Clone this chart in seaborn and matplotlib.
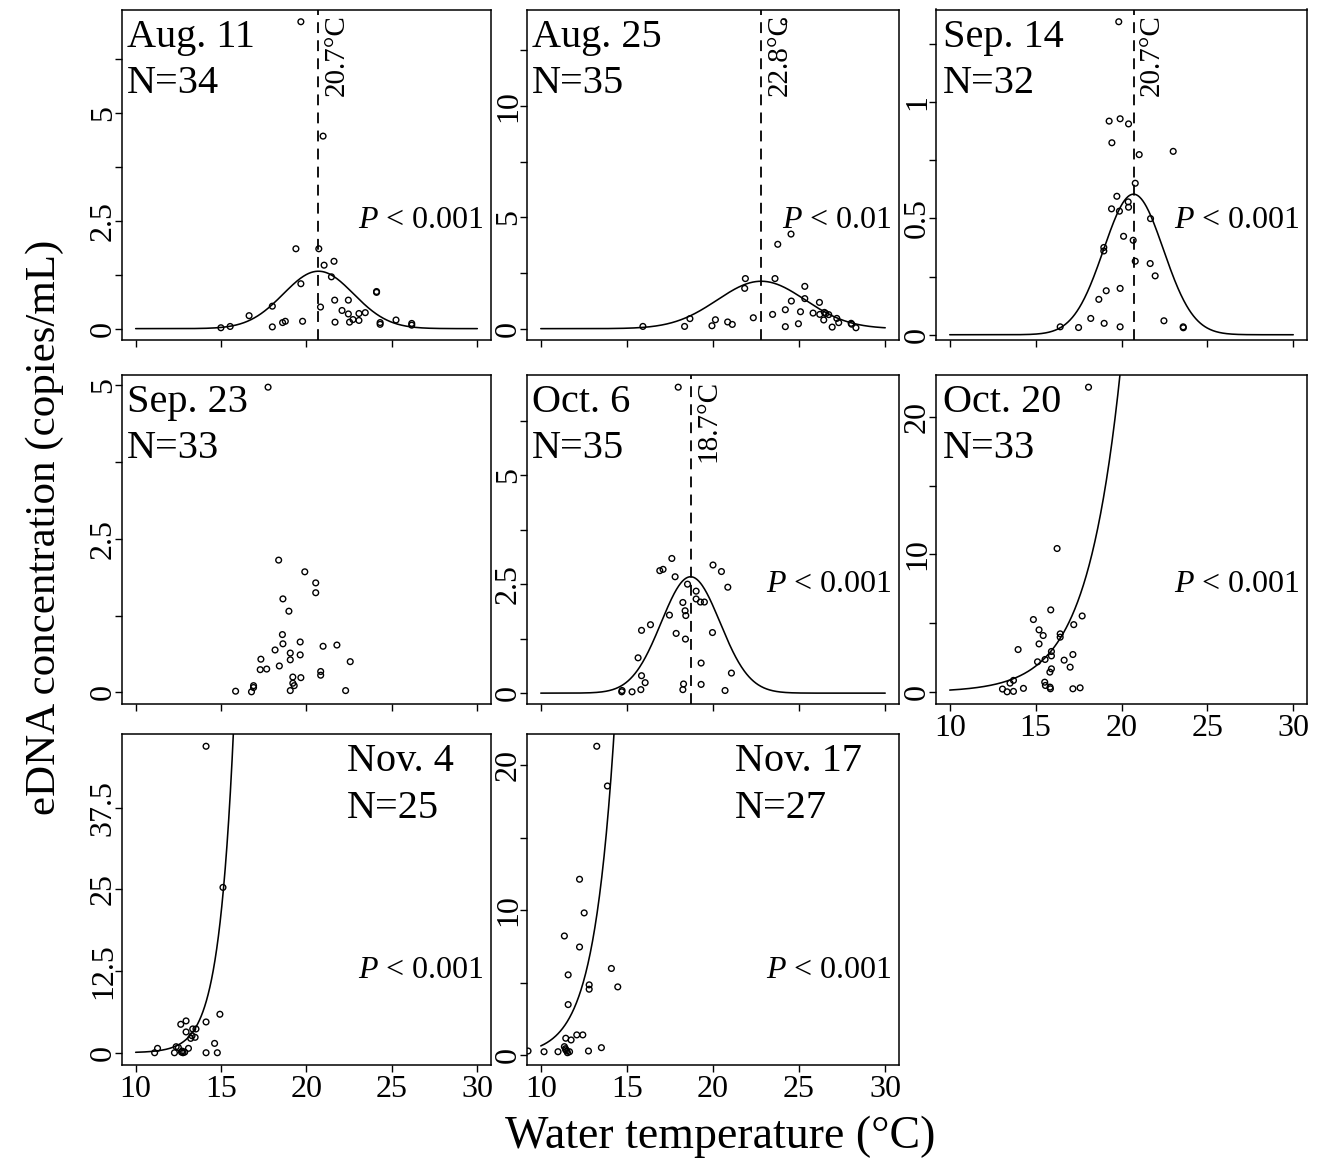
"""
eDNA concentration vs. water temperature, 8 sampling dates (3x3 panel grid)
"""
import numpy as np
import pandas as pd
import matplotlib
matplotlib.use('Agg')
import matplotlib.pyplot as plt
import matplotlib.transforms as mtransforms
import seaborn as sns

# ---- data ----
dates = ['Aug. 11', 'Aug. 25', 'Sep. 14', 'Sep. 23', 'Oct. 6', 'Oct. 20', 'Nov. 4', 'Nov. 17']
n_labels = ['N=34', 'N=35', 'N=32', 'N=33', 'N=35', 'N=33', 'N=25', 'N=27']
p_labels = ['< 0.001', '< 0.01', '< 0.001', None, '< 0.001', '< 0.001', '< 0.001', '< 0.001']

aug11_temp = [19.67, 20.97, 19.38, 20.72, 21.61, 21.03, 19.67, 21.46, 24.10, 18.0, 16.64, 21.65,
              22.45, 20.82, 22.08, 22.45, 23.07, 23.44, 22.72, 23.07, 22.52, 21.67, 19.77, 18.76,
              18.6, 18.0, 14.99, 15.53, 24.31, 24.31, 25.24, 26.16, 26.16, 24.1]
aug11_conc = [7.11, 4.46, 1.85, 1.85, 1.56, 1.47, 1.04, 1.20, 0.84, 0.52, 0.30, 0.66,
              0.66, 0.50, 0.42, 0.34, 0.35, 0.37, 0.21, 0.19, 0.15, 0.15, 0.17, 0.17,
              0.14, 0.04, 0.02, 0.05, 0.14, 0.10, 0.20, 0.12, 0.08, 0.86]

aug25_temp = [24.11, 23.76, 24.53, 21.88, 21.84, 23.6, 25.33, 25.33, 24.55, 26.18, 24.2, 25.08,
              25.81, 23.46, 26.2, 26.47, 26.72, 26.43, 27.19, 27.3, 26.92, 28.02, 28.3, 24.96,
              24.2, 22.34, 20.85, 21.12, 20.14, 19.94, 18.66, 18.35, 15.93, 26.55, 28.05]
aug25_conc = [13.79, 3.79, 4.25, 2.25, 1.81, 2.25, 1.90, 1.35, 1.24, 1.18, 0.85, 0.76,
              0.70, 0.64, 0.64, 0.73, 0.63, 0.39, 0.46, 0.27, 0.07, 0.24, 0.04, 0.22,
              0.09, 0.49, 0.30, 0.19, 0.40, 0.13, 0.45, 0.10, 0.10, 0.68, 0.20]

sep14_temp = [19.84, 19.28, 19.92, 20.41, 19.44, 21.03, 23.01, 20.80, 19.73, 20.39, 19.42, 19.88,
              20.41, 21.69, 20.12, 20.68, 18.97, 18.97, 20.8, 21.67, 21.96, 19.11, 19.92, 18.68,
              18.21, 18.99, 19.92, 17.5, 16.43, 22.47, 23.59, 23.6]
sep14_conc = [1.345, 0.918, 0.928, 0.906, 0.825, 0.774, 0.788, 0.651, 0.595, 0.571, 0.541, 0.531,
              0.548, 0.499, 0.423, 0.406, 0.375, 0.36, 0.316, 0.306, 0.253, 0.189, 0.199, 0.152,
              0.07, 0.049, 0.034, 0.031, 0.034, 0.06, 0.034, 0.03]

sep23_temp = [17.75, 18.37, 19.9, 20.54, 20.54, 18.62, 18.97, 18.59, 18.62, 19.63, 20.97, 21.78,
              18.16, 19.05, 19.63, 19.05, 17.33, 22.56, 18.41, 17.67, 17.29, 20.83, 20.83, 19.2,
              19.67, 16.9, 19.28, 19.05, 16.78, 15.85, 22.29, 16.9, 19.2]
sep23_conc = [4.96, 2.15, 1.96, 1.78, 1.62, 1.52, 1.32, 0.94, 0.79, 0.82, 0.75, 0.77,
              0.69, 0.64, 0.61, 0.53, 0.54, 0.50, 0.43, 0.38, 0.37, 0.34, 0.28, 0.25,
              0.24, 0.11, 0.11, 0.03, 0.01, 0.02, 0.03, 0.08, 0.15]

oct6_temp = [17.98, 17.61, 16.91, 17.1, 17.8, 20.0, 20.49, 20.86, 18.52, 19.02, 19.02, 19.27,
             19.5, 18.25, 18.38, 18.42, 17.47, 16.37, 15.85, 17.86, 18.4, 19.97, 15.65, 19.31,
             21.07, 15.85, 16.06, 18.29, 19.31, 18.25, 15.81, 14.7, 15.3, 20.7, 14.72]
oct6_conc = [7.02, 3.09, 2.81, 2.84, 2.67, 2.94, 2.79, 2.43, 2.50, 2.34, 2.16, 2.09,
             2.09, 2.08, 1.89, 1.78, 1.79, 1.57, 1.44, 1.37, 1.24, 1.39, 0.81, 0.69,
             0.46, 0.40, 0.24, 0.21, 0.20, 0.08, 0.08, 0.03, 0.03, 0.06, 0.06]

oct20_temp = [18.08, 16.25, 15.88, 14.87, 17.71, 17.22, 15.2, 15.44, 16.43, 16.43, 15.2, 13.98,
              15.92, 15.92, 17.17, 15.11, 15.55, 16.66, 17.01, 15.92, 15.83, 13.71, 13.51, 15.53,
              15.57, 15.84, 15.86, 14.29, 13.07, 13.34, 13.71, 17.17, 17.59]
oct20_conc = [22.15, 10.43, 5.97, 5.27, 5.53, 4.90, 4.52, 4.11, 4.23, 3.99, 3.50, 3.09,
              2.95, 2.63, 2.73, 2.20, 2.37, 2.32, 1.81, 1.69, 1.45, 0.85, 0.65, 0.72,
              0.48, 0.36, 0.24, 0.27, 0.22, 0.02, 0.05, 0.24, 0.31]

nov4_temp = [14.12, 15.11, 14.93, 12.64, 12.95, 14.12, 12.95, 13.34, 13.53, 13.22, 13.48, 12.37,
             13.09, 11.28, 14.62, 11.11, 12.27, 12.68, 12.77, 12.87, 14.12, 14.78, 12.72, 13.3, 12.5]
nov4_conc = [46.9, 25.3, 5.89, 4.35, 4.87, 4.71, 3.18, 3.64, 3.64, 2.2, 2.36, 0.92,
             0.67, 0.67, 1.43, 0.0, 0.0, 0.1, 0.0, 0.1, 0.0, 0.0, 0.25, 2.6, 0.8]

nov17_temp = [13.25, 13.87, 12.25, 12.52, 11.37, 12.25, 14.1, 11.59, 12.81, 12.81, 14.47, 11.59,
              12.09, 12.44, 11.45, 11.76, 11.37, 11.43, 13.52, 10.19, 11.0, 11.51, 11.67, 11.55,
              12.77, 9.26, 11.45]
nov17_conc = [21.31, 18.57, 12.14, 9.82, 8.23, 7.47, 5.99, 5.55, 4.86, 4.56, 4.72, 3.5,
              1.41, 1.41, 1.18, 1.06, 0.6, 0.46, 0.53, 0.25, 0.25, 0.3, 0.25, 0.18,
              0.3, 0.3, 0.38]

# fitted curves: gaussian (peak temp, peak height, sd) or exponential (value at 10 C, rate)
fit_models = [('gauss', 20.7, 1.33, 2.05), ('gauss', 22.8, 2.13, 2.55), ('gauss', 20.7, 0.604, 1.74),
              None, ('gauss', 18.7, 2.67, 1.71), ('exp', 0.147, 0.51), ('exp', 0.068, 1.15),
              ('exp', 0.65, 0.83)]

# y axis ticks and which of them carry a label
y_ticks = [[0, 1.25, 2.5, 3.75, 5, 6.25], [0, 2.5, 5, 7.5, 10, 12.5], [0, 0.25, 0.5, 0.75, 1, 1.25],
           [0, 1.25, 2.5, 3.75, 5], [0, 1.25, 2.5, 3.75, 5, 6.25], [0, 5, 10, 15, 20],
           [0, 12.5, 25, 37.5], [0, 5, 10, 15, 20]]
y_ticklabels = [['0', '', '2.5', '', '5', ''], ['0', '', '5', '', '10', ''], ['0', '', '0.5', '', '1', ''],
                ['0', '', '2.5', '', '5'], ['0', '', '2.5', '', '5', ''], ['0', '', '10', '', '20'],
                ['0', '12.5', '25', '37.5'], ['0', '', '10', '', '20']]
x_ticks = [10, 15, 20, 25, 30]

temps = [aug11_temp, aug25_temp, sep14_temp, sep23_temp, oct6_temp, oct20_temp, nov4_temp, nov17_temp]
concs = [aug11_conc, aug25_conc, sep14_conc, sep23_conc, oct6_conc, oct20_conc, nov4_conc, nov17_conc]

# ---- style ----
sns.set_theme(style='ticks')
plt.rcParams['font.family'] = ['Liberation Serif', 'DejaVu Serif']
plt.rcParams['mathtext.fontset'] = 'custom'
plt.rcParams['mathtext.rm'] = 'Liberation Serif'
plt.rcParams['mathtext.it'] = 'Liberation Serif:italic'
for key in ['text.color', 'axes.labelcolor', 'xtick.color', 'ytick.color', 'axes.edgecolor']:
    plt.rcParams[key] = 'black'

W, H = 1319, 1161
fig = plt.figure(figsize=(W / 100, H / 100), dpi=100)

# panel boxes in pixels
cols = [(122, 491), (527, 899), (936, 1307)]
rows = [(9.5, 340), (375, 704), (734, 1065)]
grid = [(0, 0), (0, 1), (0, 2), (1, 0), (1, 1), (1, 2), (2, 0), (2, 1)]
show_xlabels = [False, False, False, False, False, True, True, True]
label_x = [0.014, 0.014, 0.018, 0.014, 0.014, 0.018, 0.61, 0.56]

for i in range(8):
    r, c = grid[i]
    x0, x1 = cols[c]
    y0, y1 = rows[r]
    ax = fig.add_axes([x0 / W, 1 - y1 / H, (x1 - x0) / W, (y1 - y0) / H])

    df = pd.DataFrame({'temp': temps[i], 'conc': concs[i]})
    sns.scatterplot(data=df, x='temp', y='conc', ax=ax, marker='o', s=17,
                    facecolor='none', edgecolor='black', linewidth=1.0, zorder=3)

    model = fit_models[i]
    if model is not None:
        xs = np.linspace(10, 30, 600)
        if model[0] == 'gauss':
            mu, peak, sd = model[1:]
            ys = peak * np.exp(-(xs - mu) ** 2 / (2 * sd ** 2))
        else:
            y10, rate = model[1:]
            ys = y10 * np.exp(rate * (xs - 10))
        sns.lineplot(x=xs, y=ys, ax=ax, color='black', linewidth=1.15, sort=False)
        if model[0] == 'gauss':
            mu = model[1]
            ax.axvline(mu, color='black', linewidth=1.3, linestyle=(0, (6, 4)))
            trans = mtransforms.blended_transform_factory(ax.transData, ax.transAxes)
            ax.text(mu + 0.3, 0.985, f'{mu}°C', transform=trans, rotation=90,
                    ha='left', va='top', fontsize=21)

    # R-style 4% padding of the data range
    cmin, cmax = min(concs[i]), max(concs[i])
    pad = 0.04 * (cmax - cmin)
    ax.set_ylim(cmin - pad, cmax + pad)
    ax.set_xlim(9.2, 30.8)

    ax.set_xticks(x_ticks)
    if show_xlabels[i]:
        ax.set_xticklabels([str(t) for t in x_ticks], fontsize=23)
    else:
        ax.set_xticklabels([])
    ax.set_yticks(y_ticks[i])
    ax.set_yticklabels(y_ticklabels[i], rotation=90, va='center', fontsize=23)
    ax.tick_params(direction='out', length=5, width=1.0, color='black')
    ax.tick_params(axis='x', pad=2)
    ax.tick_params(axis='y', pad=-2)
    ax.set_xlabel('')
    ax.set_ylabel('')
    for sp in ax.spines.values():
        sp.set_color('black')
        sp.set_linewidth(1.1)

    ax.text(label_x[i], 0.972, dates[i], transform=ax.transAxes, ha='left', va='top', fontsize=29)
    ax.text(label_x[i], 0.832, n_labels[i], transform=ax.transAxes, ha='left', va='top', fontsize=29)
    if p_labels[i] is not None:
        py = 0.263 if r == 2 else 0.34
        ax.text(0.98, py, '$P$ ' + p_labels[i], transform=ax.transAxes,
                ha='right', va='baseline', fontsize=23)

fig.text(45 / W, 1 - 527 / H, 'eDNA concentration (copies/mL)', rotation=90,
         ha='center', va='center', fontsize=31)
fig.text(720 / W, 1 - 1137 / H, 'Water temperature (°C)', ha='center', va='center', fontsize=33)

fig.savefig('out.png', dpi=100)
plt.close(fig)
